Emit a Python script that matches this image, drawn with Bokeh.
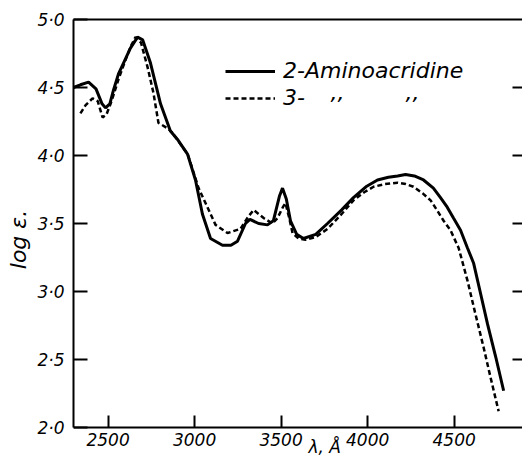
import math
from bokeh.plotting import figure
from bokeh.models import (LinearAxis, FixedTicker, Range1d, Label, Legend, LegendItem)
from bokeh.embed import file_html
from bokeh.resources import INLINE

# ---- data ----
wl_2 = [2300, 2340, 2387, 2430, 2465, 2485, 2510, 2531, 2560, 2589, 2629, 2670, 2700,
        2745, 2803, 2860, 2900, 2959, 3005, 3045, 3092, 3161, 3210, 3248, 3294, 3320,
        3370, 3421, 3455, 3490, 3508, 3530, 3554, 3590, 3629, 3700, 3768, 3850, 3918,
        3990, 4057, 4120, 4173, 4219, 4270, 4323, 4380, 4421, 4460, 4496, 4537, 4577,
        4612, 4650, 4693, 4740, 4786]
loge_2 = [4.50, 4.52, 4.54, 4.49, 4.38, 4.35, 4.38, 4.48, 4.60, 4.68, 4.79, 4.87, 4.85,
          4.68, 4.38, 4.18, 4.12, 4.01, 3.82, 3.57, 3.39, 3.34, 3.34, 3.37, 3.50, 3.53,
          3.50, 3.49, 3.52, 3.70, 3.76, 3.68, 3.52, 3.42, 3.39, 3.42, 3.50, 3.60, 3.69,
          3.77, 3.82, 3.84, 3.85, 3.86, 3.85, 3.82, 3.76, 3.69, 3.62, 3.54, 3.45, 3.32,
          3.21, 3.00, 2.76, 2.52, 2.27]

wl_3 = [2340, 2370, 2410, 2440, 2468, 2490, 2520, 2560, 2600, 2630, 2658, 2690, 2728,
        2762, 2791, 2843, 2870, 2920, 2960, 3000, 3023, 3074, 3121, 3190, 3265, 3310,
        3341, 3399, 3450, 3479, 3510, 3525, 3545, 3566, 3600, 3641, 3700, 3768, 3850,
        3918, 3980, 4034, 4100, 4173, 4220, 4265, 4320, 4364, 4400, 4439, 4479, 4526,
        4577, 4620, 4670, 4710, 4757]
loge_3 = [4.31, 4.37, 4.42, 4.40, 4.28, 4.30, 4.40, 4.56, 4.70, 4.80, 4.87, 4.83, 4.65,
          4.46, 4.24, 4.20, 4.17, 4.08, 4.01, 3.85, 3.76, 3.62, 3.49, 3.43, 3.46, 3.55,
          3.60, 3.54, 3.50, 3.54, 3.62, 3.65, 3.55, 3.43, 3.39, 3.38, 3.40, 3.46, 3.57,
          3.67, 3.73, 3.77, 3.79, 3.80, 3.79, 3.77, 3.72, 3.67, 3.60, 3.52, 3.45, 3.32,
          3.08, 2.85, 2.59, 2.37, 2.12]

x_ticks = [2500, 3000, 3500, 4000, 4500]
y_ticks = [2.0, 2.5, 3.0, 3.5, 4.0, 4.5, 5.0]
y_tick_labels = ["2·0", "2·5", "3·0", "3·5", "4·0", "4·5", "5·0"]
right_ticks = [2.5, 3.0, 3.5, 4.0, 4.5]
series_names = ["2-Aminoacridine", "3-"]

FONT = "DejaVu Sans"
Y_MIN, Y_MAX = 2.0, 5.0
Y_LOW = Y_MIN - 32 / 136.0   # room under the x axis for its labels

p = figure(width=522, height=459, output_backend="svg", toolbar_location=None,
           x_range=Range1d(2300, 4895), y_range=Range1d(Y_LOW, Y_MAX),
           min_border_left=73, min_border_right=0, min_border_top=19,
           min_border_bottom=0, x_axis_location=None, y_axis_location=None)
p.outline_line_color = None
p.grid.visible = False
p.background_fill_color = "white"
p.border_fill_color = "white"

# bottom axis, pinned at log e = 2.0
xb = LinearAxis(ticker=FixedTicker(ticks=x_ticks), fixed_location=Y_MIN)
xb.major_tick_in = 12
xb.major_tick_out = 0
xb.minor_tick_line_color = None
xb.axis_line_width = 2
xb.major_tick_line_width = 2
xb.major_label_standoff = 5
xb.major_label_text_font = FONT
xb.major_label_text_font_style = "italic"
xb.major_label_text_font_size = "17px"
xb.major_label_text_color = "black"
p.add_layout(xb, "below")

# left axis
yl = LinearAxis(ticker=FixedTicker(ticks=y_ticks), axis_label="log ε.",
                bounds=(Y_MIN, Y_MAX))
yl.major_label_overrides = {t: s for t, s in zip(y_ticks, y_tick_labels)}
yl.major_tick_in = 14
yl.major_tick_out = 0
yl.minor_tick_line_color = None
yl.axis_line_width = 2
yl.major_tick_line_width = 2
yl.major_label_standoff = 9
yl.major_label_text_font = FONT
yl.major_label_text_font_style = "italic"
yl.major_label_text_font_size = "17px"
yl.major_label_text_color = "black"
yl.axis_label_text_font = FONT
yl.axis_label_text_font_style = "italic"
yl.axis_label_text_font_size = "22px"
yl.axis_label_text_color = "black"
yl.axis_label_standoff = 3
p.add_layout(yl, "left")

# top line
xt = LinearAxis(ticker=FixedTicker(ticks=[]))
xt.axis_line_width = 2
xt.major_tick_line_color = None
xt.minor_tick_line_color = None
xt.major_label_standoff = 0
p.add_layout(xt, "above")

# right ticks (no line visible)
yr = LinearAxis(ticker=FixedTicker(ticks=right_ticks), bounds=(Y_MIN, Y_MAX))
yr.axis_line_color = None
yr.major_tick_in = 10
yr.major_tick_out = 0
yr.major_tick_line_width = 2
yr.minor_tick_line_color = None
yr.major_label_overrides = {t: "" for t in right_ticks}
yr.major_label_standoff = 0
p.add_layout(yr, "right")

r2 = p.line(wl_2, loge_2, line_color="black", line_width=3)
r3 = p.line(wl_3, loge_3, line_color="black", line_width=2.5, line_dash="5 3")

legend = Legend(items=[LegendItem(label=series_names[0], renderers=[r2]),
                       LegendItem(label=series_names[1], renderers=[r3])],
                location=(152, 349), orientation="vertical")
legend.border_line_color = None
legend.background_fill_alpha = 0
legend.padding = 0
legend.margin = 0
legend.spacing = 2
legend.glyph_width = 50
legend.glyph_height = 24
legend.label_standoff = 8
legend.label_text_font = FONT
legend.label_text_font_style = "italic"
legend.label_text_font_size = "22px"
legend.label_text_color = "black"
legend.label_height = 24
p.add_layout(legend, "center")

for xd in [3785, 4219]:
    p.add_layout(Label(x=xd, y=4.47, text=",,", text_font=FONT, text_color="black",
                       text_font_style="italic", text_font_size="22px",
                       text_baseline="alphabetic", text_align="left"))

p.add_layout(Label(x=3658, y=Y_MIN - 9 / 136.0, text="λ, Å",
                   text_font=FONT, text_font_style="italic", text_font_size="17px",
                   text_color="black", text_align="left", text_baseline="top"))

open("out.html", "w").write(file_html(p, INLINE))
